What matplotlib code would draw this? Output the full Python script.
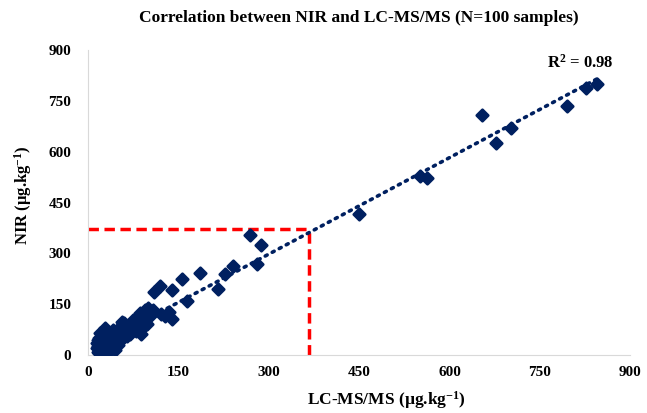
import numpy as np
import matplotlib
matplotlib.use("Agg")
import matplotlib.pyplot as plt

plt.rcParams['font.family'] = ['Liberation Serif', 'DejaVu Serif']
plt.rcParams['font.weight'] = 'bold'
plt.rcParams['mathtext.fontset'] = 'custom'
plt.rcParams['mathtext.rm'] = 'Liberation Serif:bold'
plt.rcParams['mathtext.bf'] = 'Liberation Serif:bold'
plt.rcParams['mathtext.default'] = 'bf'

# LC-MS/MS values (x) and NIR values (y)
lcms = [845, 826, 795, 702, 678, 654, 563, 551, 450,
        287, 281, 269, 241, 228, 216, 186, 164, 156, 140, 120, 110,
        128, 135, 140, 122, 105, 100, 108, 95, 92, 98, 86, 83, 75, 73, 86, 88, 60, 56, 65,
        48, 42, 28, 45, 52, 38, 35, 30, 25, 20,
        15, 15, 16, 17, 18, 18, 20, 20, 22, 22, 24, 24, 25, 26, 27, 28, 28, 30, 30, 32,
        32, 34, 35, 36, 38, 40, 40, 42, 44, 45, 46, 48, 50, 52, 55, 58, 60, 62, 65, 68,
        70, 72, 78, 80, 90, 16, 19, 23, 33, 37]
nir = [800, 788, 735, 670, 625, 708, 522, 528, 415,
       324, 268, 354, 264, 238, 196, 242, 160, 224, 192, 204, 186,
       115, 128, 108, 120, 118, 140, 132, 133, 105, 92, 124, 103, 103, 88, 74, 62, 94, 97, 82,
       74, 74, 80, 38, 45, 60, 50, 65, 55, 65,
       20, 35, 45, 10, 28, 50, 15, 40, 25, 55, 8, 35, 45, 18, 30, 52, 12, 40, 22, 30,
       58, 15, 38, 25, 45, 20, 32, 50, 28, 15, 40, 55, 30, 60, 48, 65, 55, 70, 58, 72,
       62, 80, 85, 70, 80, 28, 5, 42, 8, 18]

r2_label = 'R$^2$ = 0.98'
ref_x = 367
ref_y = 372

x = np.array(lcms, dtype=float)
y = np.array(nir, dtype=float)
slope, icpt = np.polyfit(x, y, 1)

fig = plt.figure(figsize=(6.47, 4.13), dpi=100)
ax = fig.add_axes([0.136, 0.140, 0.838, 0.739])

navy = '#002060'
ax.plot([0, ref_x], [ref_y, ref_y], color='#ff0000', lw=2.5, ls=(0, (3, 1.6)), zorder=2)
ax.plot([ref_x, ref_x], [0, ref_y], color='#ff0000', lw=2.5, ls=(0, (3, 1.6)), zorder=2)

pts = ax.scatter(x, y, marker='D', s=34, color=navy, edgecolors=navy, linewidths=2.0, zorder=3)
pts.set_joinstyle('round')
xs = np.array([x.min(), x.max()])
ax.plot(xs, slope * xs + icpt, color=navy, lw=2.6, ls=(0, (0.6, 1.6)),
        dash_capstyle='round', zorder=4)

ax.text(817, 862, r2_label, fontsize=12, fontweight='bold', ha='center', va='center')

ax.set_xlim(0, 900)
ax.set_ylim(0, 900)
ax.set_xticks(np.arange(0, 901, 150))
ax.set_yticks(np.arange(0, 901, 150))
ax.tick_params(axis='x', length=0, labelsize=11, pad=8)
ax.tick_params(axis='y', length=0, labelsize=11, pad=12)
for lab in ax.get_xticklabels() + ax.get_yticklabels():
    lab.set_fontweight('bold')
for s in ['top', 'right']:
    ax.spines[s].set_visible(False)
for s in ['left', 'bottom']:
    ax.spines[s].set_color('#d9d9d9')

ax.set_title('Correlation between NIR and LC-MS/MS (N=100 samples)',
             fontsize=12.5, fontweight='bold', pad=20)
ax.set_xlabel('LC-MS/MS (µg.kg$^{-1}$)', fontsize=12.5, fontweight='bold')
ax.xaxis.set_label_coords(0.55, -0.112)
ax.set_ylabel('NIR (µg.kg$^{-1}$)', fontsize=12, fontweight='bold')
ax.yaxis.set_label_coords(-0.10, 0.525)

fig.savefig('out.png', dpi=100)
